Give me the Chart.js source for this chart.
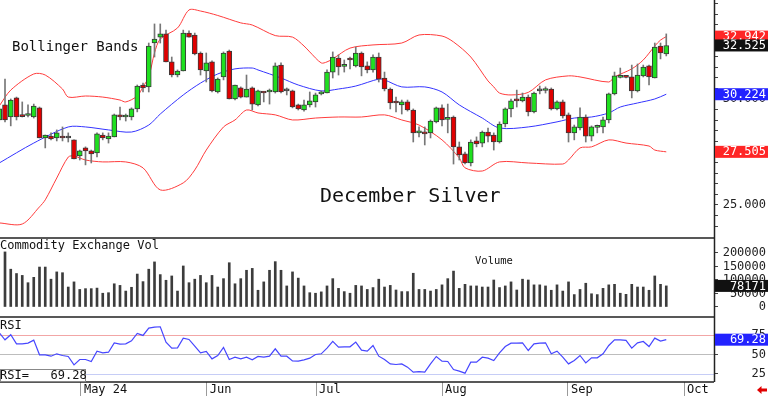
<!DOCTYPE html>
<html>
<head>
<meta charset="utf-8">
<script src="https://cdn.jsdelivr.net/npm/chart.js@4.4.1/dist/chart.umd.min.js"></script>
<style>
  html, body { margin: 0; padding: 0; background: #fff; }
  #wrap { width: 768px; height: 396px; }
</style>
</head>
<body>
<div id="wrap"><canvas id="silverChart" width="768" height="396"></canvas></div>
<script>
// session numbers: first one is cut off at the left edge
const firstBar = -1;

const opens = [29.01, 29.72, 29.15, 30.05, 29.25, 29.22, 29.15, 29.58, 28.16, 28.25,
  28.16, 28.25, 28.16, 28.07, 27.31, 27.69, 27.55, 27.45, 28.30, 28.11,
  28.21, 29.25, 29.15, 29.15, 29.53, 30.66, 30.57, 32.64, 32.92, 33.07,
  31.75, 31.13, 31.32, 33.11, 33.02, 32.17, 31.32, 31.75, 30.33, 31.04,
  32.26, 30.00, 30.52, 30.09, 30.52, 29.72, 30.33, 30.33, 30.33, 31.60,
  30.38, 30.38, 29.72, 29.48, 29.72, 29.86, 30.24, 30.28, 31.27, 31.93,
  31.54, 31.87, 31.56, 32.17, 31.56, 31.37, 31.98, 30.99, 30.47, 29.83,
  29.72, 29.86, 29.48, 28.40, 28.44, 28.40, 28.92, 29.58, 29.04, 29.15,
  27.74, 27.41, 26.98, 28.02, 27.92, 28.44, 28.30, 27.97, 28.82, 29.53,
  29.93, 29.91, 30.09, 29.39, 30.38, 30.40, 30.47, 29.53, 29.86, 29.25,
  28.40, 28.63, 29.15, 28.25, 28.66, 28.68, 29.01, 30.24, 31.02, 31.04,
  31.04, 30.38, 31.09, 31.56, 30.99, 32.50, 32.12];
const highs = [29.62, 30.94, 30.00, 30.09, 29.86, 29.72, 29.76, 29.62, 28.30, 28.40,
  28.54, 28.68, 28.40, 28.07, 27.59, 27.74, 27.59, 28.40, 28.40, 28.40,
  29.29, 29.62, 29.29, 29.58, 30.66, 30.75, 32.64, 33.54, 33.54, 33.25,
  31.98, 31.37, 33.25, 33.21, 33.11, 32.22, 32.17, 31.80, 30.99, 32.22,
  32.31, 30.66, 30.57, 31.13, 30.57, 30.42, 30.35, 30.47, 31.70, 31.70,
  30.52, 30.42, 29.76, 29.95, 30.33, 30.28, 30.38, 31.37, 32.22, 32.08,
  31.84, 31.98, 32.45, 32.22, 31.75, 32.08, 32.17, 31.27, 30.52, 30.09,
  29.95, 29.95, 29.53, 28.68, 28.68, 29.01, 29.62, 29.72, 29.76, 29.20,
  27.97, 27.50, 28.07, 28.21, 28.49, 28.63, 28.40, 28.92, 29.58, 30.00,
  30.42, 30.28, 30.19, 30.33, 30.61, 30.57, 30.52, 29.91, 29.95, 29.34,
  28.77, 29.58, 29.25, 28.73, 28.77, 29.15, 30.28, 31.27, 31.46, 31.09,
  31.60, 31.65, 31.60, 31.60, 32.64, 32.64, 33.07];
const lows = [28.96, 28.92, 28.73, 29.01, 29.15, 29.15, 29.10, 28.16, 27.69, 28.07,
  28.02, 28.02, 27.97, 27.17, 27.12, 26.89, 26.98, 27.26, 28.07, 27.92,
  28.21, 29.01, 28.96, 29.01, 29.39, 30.33, 30.33, 31.98, 32.64, 31.75,
  31.04, 31.04, 31.32, 32.92, 32.08, 31.13, 30.80, 30.33, 30.28, 30.90,
  30.00, 29.95, 30.05, 30.09, 29.48, 29.67, 29.86, 29.76, 30.28, 30.28,
  30.19, 29.58, 29.48, 29.43, 29.62, 29.62, 30.19, 30.28, 30.99, 31.13,
  31.27, 31.42, 31.51, 31.09, 31.23, 31.27, 30.80, 30.38, 29.53, 29.39,
  29.29, 29.43, 27.97, 28.21, 27.83, 28.16, 28.87, 28.73, 28.40, 26.93,
  27.12, 26.93, 26.84, 27.74, 27.74, 27.97, 27.59, 27.92, 28.68, 29.15,
  29.62, 29.86, 29.20, 29.34, 30.24, 30.28, 29.48, 29.48, 29.10, 27.97,
  28.07, 28.54, 27.97, 28.02, 28.40, 28.40, 28.87, 30.19, 30.99, 30.99,
  30.05, 30.33, 31.04, 30.66, 30.99, 31.89, 32.03];
const closes = [29.53, 29.01, 29.95, 29.15, 29.17, 29.25, 29.67, 28.16, 28.30, 28.11,
  28.40, 28.16, 28.16, 27.17, 27.55, 27.55, 27.41, 28.35, 28.16, 28.25,
  29.25, 29.15, 29.17, 29.53, 30.61, 30.52, 32.50, 32.83, 33.07, 31.75,
  31.13, 31.32, 33.11, 32.92, 32.12, 31.37, 31.70, 30.38, 30.94, 32.17,
  30.00, 30.66, 30.09, 30.47, 29.76, 30.38, 30.28, 30.38, 31.56, 30.33,
  30.38, 29.62, 29.53, 29.72, 29.91, 30.19, 30.28, 31.27, 31.98, 31.51,
  31.56, 31.84, 32.17, 31.51, 31.37, 31.98, 30.94, 30.47, 29.81, 29.81,
  29.86, 29.48, 28.40, 28.49, 28.35, 28.96, 29.58, 29.01, 29.06, 27.74,
  27.36, 26.98, 27.97, 27.88, 28.44, 28.25, 27.97, 28.82, 29.53, 29.91,
  29.91, 30.09, 29.39, 30.28, 30.38, 30.42, 29.53, 29.86, 29.20, 28.40,
  28.68, 29.15, 28.25, 28.68, 28.68, 29.01, 30.24, 31.09, 31.04, 31.02,
  30.38, 31.13, 31.51, 31.04, 32.45, 32.17, 32.525];

const volumes = [null, 204000, 140000, 124000, 117000, 90000, 110000, 148000, 148000, 103000,
  130000, 127000, 74000, 93000, 65000, 68000, 68000, 70000, 51000, 53000,
  86000, 80000, 59000, 73000, 122000, 94000, 140000, 167000, 120000, 99000,
  115000, 59000, 152000, 90000, 103000, 117000, 90000, 117000, 74000, 105000,
  164000, 86000, 105000, 136000, 143000, 62000, 93000, 136000, 168000, 136000,
  78000, 130000, 107000, 78000, 53000, 51000, 56000, 78000, 105000, 69000,
  57000, 51000, 80000, 78000, 65000, 72000, 103000, 74000, 80000, 63000,
  57000, 57000, 125000, 65000, 65000, 59000, 65000, 82000, 105000, 133000,
  69000, 84000, 78000, 78000, 74000, 74000, 100000, 72000, 78000, 93000,
  63000, 103000, 100000, 82000, 82000, 78000, 62000, 82000, 59000, 93000,
  46000, 65000, 88000, 49000, 46000, 69000, 82000, 84000, 51000, 47000,
  84000, 74000, 74000, 62000, 115000, 84000, 78171];

const rsi = [78.3, 69.1, 75.7, 63.9, 63.9, 64.8, 68.7, 49.6, 49.6, 47.8,
  50.9, 48.7, 47.4, 36.5, 43.5, 43.5, 40.9, 54.3, 52.2, 53.0,
  65.2, 63.5, 63.9, 67.8, 77.4, 74.8, 84.3, 85.7, 86.1, 66.1,
  58.3, 58.7, 71.3, 69.6, 60.9, 52.2, 53.9, 44.3, 48.7, 59.1,
  43.5, 46.5, 44.3, 46.5, 43.0, 47.4, 46.5, 47.8, 57.4, 47.8,
  47.8, 41.7, 41.3, 43.0, 45.2, 50.0, 50.9, 58.3, 67.0, 59.6,
  60.0, 60.0, 66.1, 55.7, 54.3, 61.7, 47.8, 43.5, 37.8, 37.0,
  37.8, 33.5, 27.0, 27.8, 27.0, 37.8, 47.4, 41.3, 40.9, 30.4,
  28.3, 25.7, 40.0, 40.0, 46.5, 45.2, 42.2, 52.2, 60.4, 64.8,
  64.8, 65.2, 55.2, 63.9, 64.8, 65.2, 50.9, 54.3, 46.5, 37.8,
  42.2, 48.7, 39.1, 45.7, 45.7, 50.9, 61.7, 69.1, 69.1, 68.3,
  58.3, 65.2, 67.0, 60.4, 71.3, 67.4, 69.28];

// Bollinger bands at these sessions
const upperAt = [-1, 1, 5, 7, 10, 11, 14, 17, 20, 21, 23, 24, 25, 26, 27, 30, 32, 34, 37, 41,
  43, 47, 50, 52, 53, 55, 56, 57, 60, 64, 69, 72, 76, 78, 81, 84, 85, 86, 88, 91,
  94, 98, 100, 105, 106, 109, 111, 113, 114, 115];
const upperBand = [29.67, 30.42, 31.18, 31.13, 30.47, 30.09, 30.14, 30.09, 29.95, 29.86,
  30.14, 30.57, 31.04, 32.17, 32.83, 33.35, 34.20, 34.15, 33.94, 33.59,
  33.49, 32.99, 32.92, 32.50, 32.22, 31.70, 31.75, 31.89, 32.40, 32.55,
  32.64, 33.02, 32.97, 32.69, 31.98, 30.85, 30.57, 30.28, 30.19, 30.31,
  30.90, 31.09, 31.04, 30.80, 31.04, 31.42, 31.84, 32.50, 32.78, 32.942];
const midAt = [-1, 5, 11, 14, 18, 22, 25, 27, 31, 34, 37, 40, 43, 44, 48, 51, 55, 58, 61, 65,
  66, 69, 73, 76, 79, 83, 86, 91, 96, 99, 102, 105, 107, 110, 113, 115];
const midBand = [26.98, 27.92, 28.68, 28.68, 28.54, 28.44, 28.77, 29.29, 30.19, 30.75,
  31.18, 31.42, 31.46, 31.37, 30.99, 30.66, 30.38, 30.47, 30.61, 30.94,
  30.90, 30.57, 30.57, 30.33, 29.72, 29.10, 28.63, 28.68, 28.92, 29.10,
  29.15, 29.34, 29.62, 29.81, 30.00, 30.224];
const lowerAt = [-1, 3, 6, 7, 9, 11, 12, 14, 17, 21, 24, 27, 31, 33, 35, 38, 40, 42, 44, 47,
  50, 54, 58, 62, 66, 69, 72, 76, 79, 80, 83, 86, 91, 97, 98, 100, 102, 105, 108, 112,
  113, 115];
const lowerBand = [24.15, 24.10, 24.91, 25.24, 26.27, 27.26, 27.31, 27.12, 27.03, 27.03,
  26.75, 25.71, 26.04, 26.65, 27.59, 28.68, 29.01, 29.48, 29.34, 29.25,
  29.01, 29.10, 29.15, 29.15, 29.25, 29.01, 28.77, 28.07, 27.22, 26.75,
  26.60, 27.03, 26.98, 26.93, 27.12, 27.69, 27.74, 28.07, 27.92, 27.78,
  27.59, 27.505];

const monthAt = [13.2, 35.1, 54.1, 76.0, 97.9, 118.1];
const monthLabels = ['May 24', 'Jun', 'Jul', 'Aug', 'Sep', 'Oct'];
const priceTicks = [24, 24.5, 25, 25.5, 26, 26.5, 27, 27.5, 28, 28.5, 29, 29.5,
  30, 30.5, 31, 31.5, 32, 32.5, 33, 33.5, 34, 34.5];
const priceLabels = [25, 27.5, 30, 32.5];
const volTicks = [0, 50000, 100000, 150000, 200000];
const rsiTicks = [25, 50, 75];

const MONO = '"DejaVu Sans Mono", "Liberation Mono", monospace';
Chart.defaults.font.family = MONO;
Chart.defaults.font.size = 12;
Chart.defaults.color = '#222';

const sessions = opens.map((_, k) => firstBar + k);
const pts = (xs, ys) => xs.map((x, k) => ({ x: x, y: ys[k] }));
const last = arr => arr[arr.length - 1];

function bodyColor(ctx) {
  const k = ctx.dataIndex;
  if (closes[k] > opens[k]) return '#1fe01f';
  if (closes[k] < opens[k]) return '#e00000';
  return '#666666';
}

// no label overhang padding: the panels fill the canvas edge to edge
function noPad(s) {
  s.paddingTop = 0;
  s.paddingBottom = 0;
  s.paddingLeft = 0;
  s.paddingRight = 0;
}
const fixWidth = s => { s.width = 52; noPad(s); };

const panelPlugin = {
  id: 'panels',
  beforeDatasetsDraw(chart) {
    const { ctx, chartArea: a, scales } = chart;
    ctx.save();
    // RSI guide lines
    [[75, '#f2a6a6'], [50, '#bdbdbd'], [25, '#c6cdf6']].forEach(([v, c]) => {
      const y = Math.round(scales.yRsi.getPixelForValue(v)) + 0.5;
      ctx.strokeStyle = c;
      ctx.lineWidth = 1;
      ctx.beginPath();
      ctx.moveTo(a.left, y);
      ctx.lineTo(a.right, y);
      ctx.stroke();
    });
    ctx.fillStyle = '#111';
    ctx.textBaseline = 'alphabetic';
    ctx.font = '14px ' + MONO;
    ctx.fillText('Bollinger Bands', 12, 51);
    ctx.font = '20px ' + MONO;
    ctx.fillText('December Silver', 320, 202);
    ctx.font = '12px ' + MONO;
    ctx.fillText('Commodity Exchange Vol', 0, 249);
    ctx.fillText('RSI', 0, 329);
    ctx.font = '10.5px ' + MONO;
    ctx.fillText('Volume', 475, 264);
    ctx.restore();
  },
  afterDraw(chart) {
    const { ctx, chartArea: a, scales } = chart;
    ctx.save();
    // panel frames
    ctx.strokeStyle = '#222';
    ctx.lineWidth = 1.5;
    ctx.beginPath();
    [scales.y.bottom, scales.yVol.bottom, scales.yRsi.bottom].forEach(y => {
      ctx.moveTo(0, y);
      ctx.lineTo(a.right, y);
    });
    ctx.moveTo(a.right + 0.5, 0);
    ctx.lineTo(a.right + 0.5, a.bottom);
    ctx.stroke();

    // value boxes on the right axis
    const tag = (scale, v, text, bg) => {
      const y = scale.getPixelForValue(v);
      ctx.fillStyle = bg;
      ctx.fillRect(a.right + 1, y - 6, chart.width - a.right - 1, 12);
      ctx.fillStyle = '#fff';
      ctx.font = '12px ' + MONO;
      ctx.textAlign = 'right';
      ctx.textBaseline = 'middle';
      ctx.fillText(text, chart.width - 2, y + 0.5);
    };
    tag(scales.y, last(upperBand), last(upperBand).toFixed(3), '#ff2626');
    tag(scales.y, last(closes), last(closes).toFixed(3), '#111');
    tag(scales.y, last(midBand), last(midBand).toFixed(3), '#2222ff');
    tag(scales.y, last(lowerBand), last(lowerBand).toFixed(3), '#ff2626');
    tag(scales.yVol, last(volumes), String(last(volumes)), '#111');
    tag(scales.yRsi, last(rsi), last(rsi).toFixed(2), '#2222ff');

    // RSI readout
    const by = scales.yRsi.bottom - 13;
    ctx.fillStyle = '#fff';
    ctx.fillRect(0, by, 86, 13);
    ctx.strokeStyle = '#888';
    ctx.lineWidth = 1;
    ctx.strokeRect(0.5, by + 0.5, 85, 12);
    ctx.fillStyle = '#111';
    ctx.textAlign = 'left';
    ctx.textBaseline = 'middle';
    ctx.font = '12px ' + MONO;
    ctx.fillText('RSI=   ' + last(rsi).toFixed(2), 0, by + 7);

    // little red arrow, bottom right
    ctx.fillStyle = '#e00000';
    ctx.beginPath();
    ctx.moveTo(757, 390);
    ctx.lineTo(761.5, 386);
    ctx.lineTo(761.5, 394);
    ctx.closePath();
    ctx.fill();
    ctx.fillRect(761, 388.5, 6, 3);
    ctx.restore();
  }
};

new Chart(document.getElementById('silverChart'), {
  type: 'bar',
  data: {
    datasets: [
      {
        label: 'Body',
        data: sessions.map((x, k) => ({ x: x, y: [opens[k], closes[k]] })),
        backgroundColor: bodyColor,
        borderColor: '#3a3a3a',
        borderWidth: 1,
        borderSkipped: false,
        barThickness: 5,
        minBarLength: 2,
        grouped: false,
        yAxisID: 'y',
        order: 1
      },
      {
        label: 'Range',
        data: sessions.map((x, k) => ({ x: x, y: [lows[k], highs[k]] })),
        backgroundColor: '#777777',
        barThickness: 1,
        grouped: false,
        yAxisID: 'y',
        order: 2
      },
      {
        type: 'line', label: 'Upper',
        data: pts(upperAt, upperBand),
        borderColor: '#ff3c3c', borderWidth: 1, pointRadius: 0, tension: 0.3,
        yAxisID: 'y', order: 3
      },
      {
        type: 'line', label: 'Middle',
        data: pts(midAt, midBand),
        borderColor: '#3434ff', borderWidth: 1, pointRadius: 0, tension: 0.3,
        yAxisID: 'y', order: 3
      },
      {
        type: 'line', label: 'Lower',
        data: pts(lowerAt, lowerBand),
        borderColor: '#ff3c3c', borderWidth: 1, pointRadius: 0, tension: 0.3,
        yAxisID: 'y', order: 3
      },
      {
        label: 'Volume',
        data: sessions.map((x, k) => ({ x: x, y: volumes[k] })),
        backgroundColor: '#3c3c3c',
        barThickness: 2,
        grouped: false,
        yAxisID: 'yVol',
        order: 4
      },
      {
        type: 'line', label: 'RSI',
        data: sessions.map((x, k) => ({ x: x, y: rsi[k] })),
        borderColor: '#4646ff', borderWidth: 1.2, pointRadius: 0, tension: 0,
        yAxisID: 'yRsi', order: 4
      }
    ]
  },
  options: {
    responsive: false,
    animation: false,
    layout: { padding: { left: 0, right: 2, top: 0, bottom: 0 } },
    plugins: { legend: { display: false }, tooltip: { enabled: false } },
    scales: {
      x: {
        type: 'linear', min: -0.87, max: 123.3, offset: false,
        afterBuildTicks: s => { s.ticks = monthAt.map(v => ({ value: v })); },
        ticks: {
          autoSkip: false, maxRotation: 0, align: 'start', padding: -13, labelOffset: 3,
          color: '#111', callback: (v, i) => monthLabels[i]
        },
        grid: { drawOnChartArea: false, tickLength: 14, color: '#9a9a9a', offset: false },
        border: { display: false },
        afterFit: s => { s.height = 14; noPad(s); }
      },
      y: {
        type: 'linear', position: 'right', stack: 'panels', stackWeight: 238,
        min: 23.44, max: 34.67,
        afterBuildTicks: s => { s.ticks = priceTicks.map(v => ({ value: v })); },
        ticks: {
          autoSkip: false, padding: 5, crossAlign: 'far', color: '#222',
          callback: v => priceLabels.includes(v) ? v.toFixed(3) : ''
        },
        grid: { drawOnChartArea: false, tickLength: 4, color: '#444' },
        border: { display: false },
        afterFit: fixWidth
      },
      yVol: {
        type: 'linear', position: 'right', stack: 'panels', stackWeight: 79,
        min: -37037, max: 255555,
        afterBuildTicks: s => { s.ticks = volTicks.map(v => ({ value: v })); },
        ticks: { autoSkip: false, padding: 5, crossAlign: 'far', color: '#222', callback: v => String(v) },
        grid: { drawOnChartArea: false, tickLength: 4, color: '#444' },
        border: { display: false },
        afterFit: fixWidth
      },
      yRsi: {
        type: 'linear', position: 'right', stack: 'panels', stackWeight: 65,
        min: 14.2, max: 98.8,
        afterBuildTicks: s => { s.ticks = rsiTicks.map(v => ({ value: v })); },
        ticks: { autoSkip: false, padding: 5, crossAlign: 'far', color: '#222', callback: v => String(v) },
        grid: { drawOnChartArea: false, tickLength: 4, color: '#444' },
        border: { display: false },
        afterFit: fixWidth
      }
    }
  },
  plugins: [panelPlugin]
});
</script>
</body>
</html>
